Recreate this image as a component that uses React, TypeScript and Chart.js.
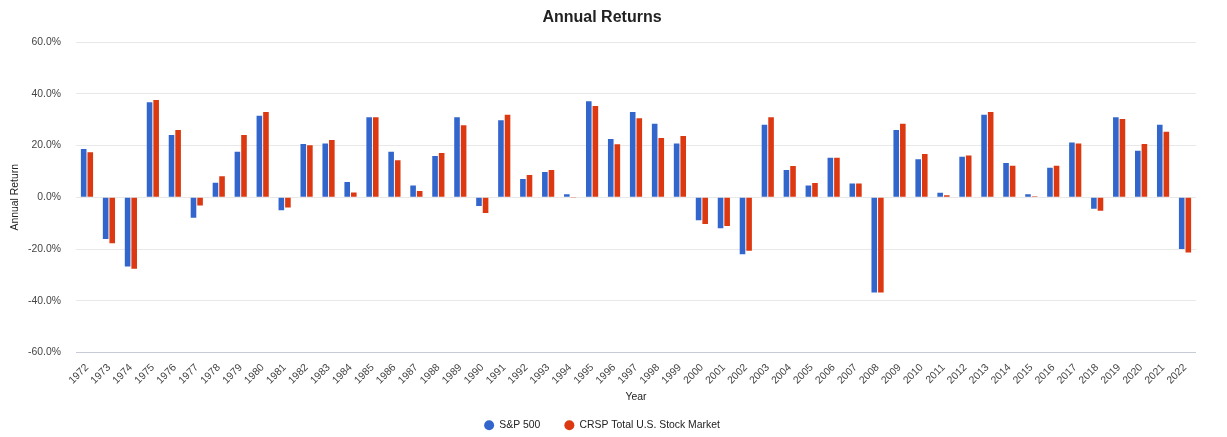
import React, { useEffect, useRef } from "react";
import { Chart, registerables } from "chart.js";

Chart.register(...registerables);

const years: string[] = [
  "1972","1973","1974","1975","1976","1977","1978","1979","1980","1981",
  "1982","1983","1984","1985","1986","1987","1988","1989","1990","1991",
  "1992","1993","1994","1995","1996","1997","1998","1999","2000","2001",
  "2002","2003","2004","2005","2006","2007","2008","2009","2010","2011",
  "2012","2013","2014","2015","2016","2017","2018","2019","2020","2021","2022",
];

const sp500: number[] = [
  18.6, -16.1, -26.8, 36.7, 24.1, -7.9, 5.6, 17.6, 31.5, -5.0,
  20.6, 20.8, 5.9, 30.9, 17.6, 4.5, 15.9, 30.9, -3.4, 29.8,
  7.1, 9.8, 1.2, 37.1, 22.5, 32.9, 28.4, 20.8, -8.9, -12.0,
  -22.0, 28.0, 10.5, 4.5, 15.3, 5.3, -36.8, 26.0, 14.7, 1.7,
  15.7, 31.9, 13.2, 1.2, 11.4, 21.2, -4.4, 30.9, 18.0, 28.0, -20.0,
];

const crsp: number[] = [
  17.4, -17.8, -27.6, 37.6, 26.0, -3.2, 8.1, 24.1, 32.9, -4.0,
  20.1, 22.1, 1.8, 30.9, 14.3, 2.4, 17.1, 27.8, -6.1, 31.9,
  8.6, 10.5, -0.1, 35.3, 20.5, 30.5, 22.9, 23.7, -10.3, -11.1,
  -20.7, 30.9, 12.1, 5.5, 15.3, 5.3, -36.8, 28.4, 16.7, 0.8,
  16.1, 32.9, 12.2, 0.4, 12.2, 20.8, -5.2, 30.2, 20.6, 25.3, -21.4,
];

const seriesNames: string[] = ["S&P 500", "CRSP Total U.S. Stock Market"];
const yTickValues: number[] = [-60, -40, -20, 0, 20, 40, 60];

const FONT = "'Liberation Sans', Arial, sans-serif";
const FS = 10.4;

const legendHeightPlugin = {
  id: "legendHeight",
  beforeLayout(chart: any) {
    const lg = chart.legend;
    if (lg && !lg._patchedFit) {
      const orig = lg.fit.bind(lg);
      lg.fit = function () {
        orig();
        this.height = 41;
      };
      lg._patchedFit = true;
    }
  },
};

export default function App() {
  const ref = useRef<HTMLCanvasElement | null>(null);

  useEffect(() => {
    document.body.style.margin = "0";
    if (!ref.current) return;
    const chart = new Chart(ref.current, {
      type: "bar",
      data: {
        labels: years,
        datasets: [
          {
            label: seriesNames[0],
            data: sp500,
            backgroundColor: "#3366CC",
            borderWidth: 0,
            barPercentage: 0.85,
            categoryPercentage: 0.6,
          },
          {
            label: seriesNames[1],
            data: crsp,
            backgroundColor: "#DC3912",
            borderWidth: 0,
            barPercentage: 0.85,
            categoryPercentage: 0.6,
          },
        ],
      },
      plugins: [legendHeightPlugin],
      options: {
        animation: false,
        responsive: false,
        maintainAspectRatio: false,
        layout: { padding: { left: 8, right: 31, top: 0, bottom: 0 } },
        plugins: {
          title: {
            display: true,
            text: "Annual Returns",
            color: "#222",
            font: { family: FONT, size: 16, weight: "bold" },
            padding: { top: 8, bottom: 14.8 },
          },
          legend: {
            position: "bottom",
            labels: {
              usePointStyle: true,
              pointStyle: "circle",
              pointStyleWidth: 10,
              boxHeight: 7.07,
              padding: 24,
              color: "#222",
              font: { family: FONT, size: FS },
            },
          },
          tooltip: { enabled: false },
        },
        scales: {
          x: {
            afterFit: (scale: any) => {
              scale.height = 43.5;
            },
            grid: { display: false, drawTicks: false },
            border: { display: false },
            ticks: {
              maxRotation: 45,
              minRotation: 45,
              autoSkip: false,
              color: "#444",
              padding: 9,
              font: { family: FONT, size: FS },
            },
            title: {
              display: true,
              text: "Year",
              color: "#222",
              font: { family: FONT, size: FS },
              padding: { top: 0, bottom: -7.5 },
            },
          },
          y: {
            min: -60,
            max: 60,
            afterBuildTicks: (scale: any) => {
              scale.ticks = yTickValues.map((v) => ({ value: v }));
            },
            afterFit: (scale: any) => {
              scale.width = 68;
            },
            grid: {
              color: (ctx: any) => (ctx.tick && ctx.tick.value === -60 ? "#c8cbd6" : "#e8e8e8"),
              drawTicks: false,
            },
            border: { display: false },
            ticks: {
              color: "#444",
              padding: 15,
              font: { family: FONT, size: FS },
              callback: (v: any) => Number(v).toFixed(1) + "%",
            },
            title: {
              display: true,
              text: "Annual Return",
              color: "#222",
              font: { family: FONT, size: FS },
              padding: { top: 1, bottom: 4 },
            },
          },
        },
      },
    });
    return () => chart.destroy();
  }, []);

  return (
    <div style={{ width: 1227, height: 437 }}>
      <canvas ref={ref} width={1227} height={437} style={{ display: "block" }} />
    </div>
  );
}
